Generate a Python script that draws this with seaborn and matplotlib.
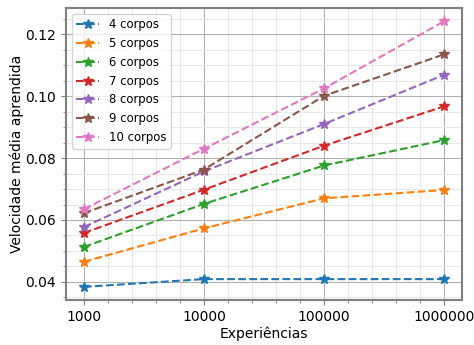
import matplotlib
matplotlib.use("Agg")
import matplotlib.pyplot as plt
import matplotlib.ticker as mticker
import pandas as pd
import seaborn as sns

experiencias = ["1000", "10000", "100000", "1000000"]
corpos = ["4 corpos", "5 corpos", "6 corpos", "7 corpos", "8 corpos", "9 corpos", "10 corpos"]

v4 = [0.0384, 0.0409, 0.0409, 0.0409]
v5 = [0.0465, 0.0573, 0.0670, 0.0697]
v6 = [0.0513, 0.0652, 0.0776, 0.0858]
v7 = [0.0558, 0.0698, 0.0840, 0.0967]
v8 = [0.0577, 0.0757, 0.0910, 0.1069]
v9 = [0.0622, 0.0763, 0.1001, 0.1135]
v10 = [0.0635, 0.0830, 0.1025, 0.1242]

series = [v4, v5, v6, v7, v8, v9, v10]

rows = []
for nome, vals in zip(corpos, series):
    for i, v in enumerate(vals):
        rows.append({"pos": i, "vel": v, "corpos": nome})
df = pd.DataFrame(rows)

fig, ax = plt.subplots(figsize=(4.74, 3.45), dpi=100)
sns.lineplot(data=df, x="pos", y="vel", hue="corpos", hue_order=corpos,
             palette="tab10", marker="*", linestyle="--", linewidth=1.5, ax=ax)

# estrelas cheias, com borda da mesma cor
for ln in ax.lines:
    ln.set_markersize(7)
    ln.set_markeredgecolor(ln.get_color())
    ln.set_markeredgewidth(1.0)

ax.set_xticks(range(len(experiencias)))
ax.set_xticklabels(experiencias)
ax.xaxis.set_minor_locator(mticker.AutoMinorLocator(5))
ax.yaxis.set_major_locator(mticker.MultipleLocator(0.02))
ax.yaxis.set_minor_locator(mticker.MultipleLocator(0.005))
ax.yaxis.set_major_formatter(mticker.FormatStrFormatter("%.2f"))

ax.grid(which="major", color="#b0b0b0", linewidth=0.8)
ax.grid(which="minor", color="#e8e8e8", linewidth=0.8)
ax.set_axisbelow(True)
for sp in ax.spines.values():
    sp.set_color("#808080")
    sp.set_linewidth(1.5)
ax.tick_params(which="both", color="#808080")

ax.set_xlabel("Experiências", labelpad=2)
ax.set_ylabel("Velocidade média aprendida", labelpad=1)

handles, labels = ax.get_legend_handles_labels()
for h in handles:
    h.set_linestyle("--")
    h.set_linewidth(1.5)
    h.set_marker("*")
    h.set_markersize(7)
    h.set_markeredgecolor(h.get_color())
ax.legend(handles, labels, loc="upper left", fontsize="small")

plt.subplots_adjust(left=0.139, right=0.975, top=0.977, bottom=0.13)
plt.savefig("out.png", dpi=100)
